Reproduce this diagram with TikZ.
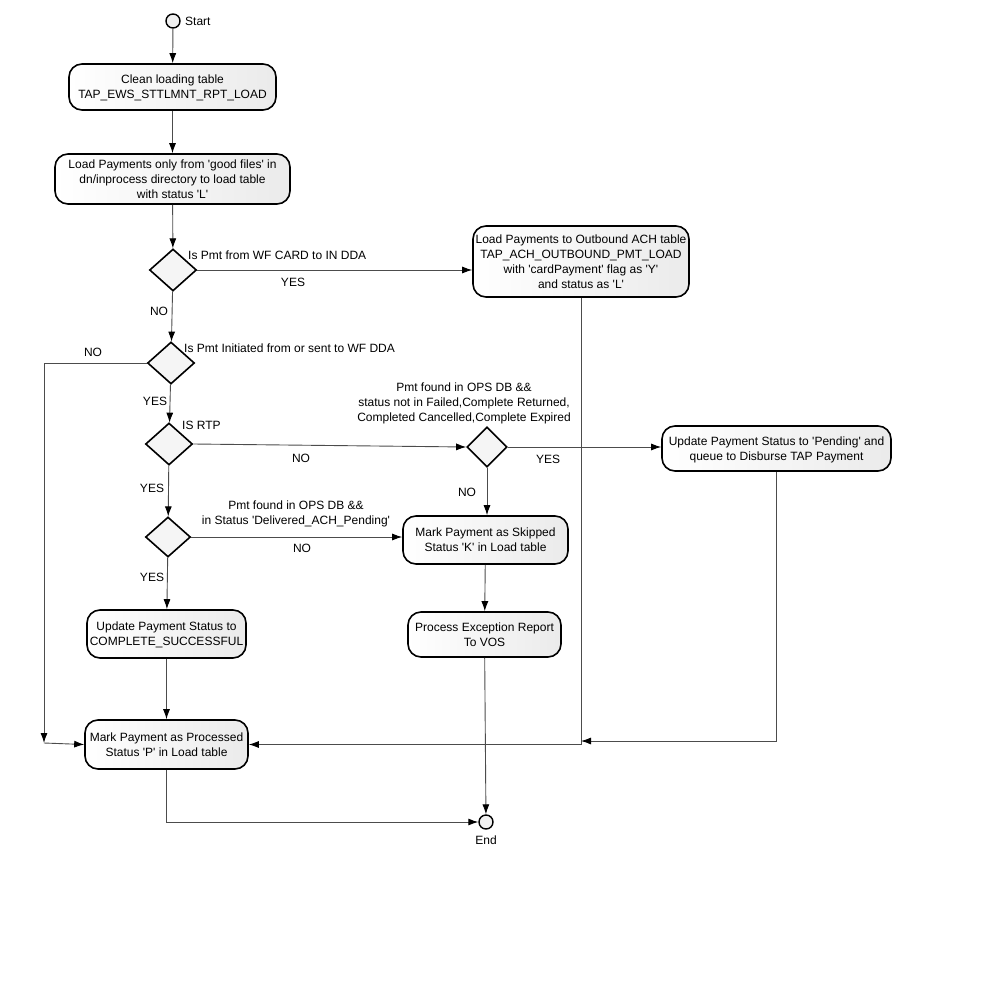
\documentclass[tikz,border=0pt]{standalone}
\usepackage{fontspec}
\setmainfont{Liberation Sans}[Ligatures=TeXOff]
\usepackage{tikz}
\usetikzlibrary{shapes.geometric, arrows.meta}
\tikzstyle{act}=[draw=black, line width=1.6pt, rounded corners=13pt, left color=white, right color=black!8, inner sep=1pt, text depth=0pt, align=center]
\tikzstyle{dec}=[diamond, draw=black, line width=1.6pt, fill=black!4, inner sep=0pt, minimum width=47pt, minimum height=42pt]
\tikzstyle{term}=[circle, draw=black, line width=1.4pt, fill=black!6, minimum size=14pt, inner sep=0pt]
\tikzstyle{lbl}=[inner sep=0pt, align=center]
\tikzstyle{flow}=[draw=black!70, line width=0.9pt, -{Latex[length=10pt,width=7pt,black]}]

\begin{document}
\begin{tikzpicture}[x=1pt, y=-1pt, font=\fontsize{12}{15}\selectfont]
    \useasboundingbox (0,0) rectangle (1000,1000);
    \node[term] (start) at (173,21) {};
    \node[lbl, anchor=west] (startl) at (185,21) {Start};
    \node[act, minimum width=207pt, minimum height=46pt] (clean) at (172.5,87) {Clean loading table\\TAP\_EWS\_STTLMNT\_RPT\_LOAD};
    \node[act, minimum width=235pt, minimum height=50pt] (load) at (172.5,179) {Load Payments only from 'good files' in\\dn/inprocess directory to load table\\with status 'L'};
    \node[dec] (d1) at (173,270) {};
    \node[lbl, anchor=west] (d1l) at (188,255) {Is Pmt from WF CARD to IN DDA};
    \node[act, minimum width=216pt, minimum height=71pt] (outbound) at (581,261.5) {Load Payments to Outbound ACH table\\TAP\_ACH\_OUTBOUND\_PMT\_LOAD\\with 'cardPayment' flag as 'Y'\\and status as 'L'};
    \node[dec] (d2) at (171,363) {};
    \node[lbl, anchor=west] (d2l) at (184,348) {Is Pmt Initiated from or sent to WF DDA};
    \node[dec] (d3) at (169,444) {};
    \node[lbl, anchor=west] (d3l) at (182,425) {IS RTP};
    \node[dec, minimum width=40pt, minimum height=40pt] (d4) at (487,447) {};
    \node[lbl] (d4l) at (464,403) {Pmt found in OPS DB \&\&\\status not in Failed,Complete Returned,\\Completed Cancelled,Complete Expired};
    \node[act, minimum width=229pt, minimum height=45pt] (pending) at (776.5,448.5) {Update Payment Status to 'Pending' and\\queue to Disburse TAP Payment};
    \node[dec, minimum width=45pt, minimum height=40pt] (d5) at (168,537) {};
    \node[lbl] (d5l) at (296,514) {Pmt found in OPS DB \&\&\\in Status 'Delivered\_ACH\_Pending'};
    \node[act, minimum width=165pt, minimum height=48pt] (skipped) at (485.5,540) {Mark Payment as Skipped\\Status 'K' in Load table};
    \node[act, minimum width=159pt, minimum height=48pt] (success) at (166.5,634) {Update Payment Status to\\COMPLETE\_SUCCESSFUL};
    \node[act, minimum width=153pt, minimum height=45pt] (exception) at (484.5,634.5) {Process Exception Report\\To VOS};
    \node[act, minimum width=163pt, minimum height=49pt] (processed) at (166.5,744.5) {Mark Payment as Processed\\Status 'P' in Load table};
    \node[term] (end) at (486,822) {};
    \node[lbl] (endl) at (486,840) {End};
    \coordinate (nocorner) at (44,743);
    \coordinate (join) at (581,741);

    % answer labels
    \node[lbl] (yes1) at (293,282) {YES};
    \node[lbl] (no1) at (159,311) {NO};
    \node[lbl] (no2) at (93,352) {NO};
    \node[lbl] (yes2) at (155,401) {YES};
    \node[lbl] (no3) at (301,458) {NO};
    \node[lbl] (yes3) at (548,459) {YES};
    \node[lbl] (no4) at (467,492) {NO};
    \node[lbl] (yes4) at (152,488) {YES};
    \node[lbl] (no5) at (302,548) {NO};
    \node[lbl] (yes5) at (152,577) {YES};

    \foreach \from/\to in {start/clean, clean/load, load/d1, d1/d2, d2/d3,
          d3/d5, d5/success, success/processed, skipped/exception, exception/end}
      \draw[flow] (\from) -- (\to);
    \draw[flow] (d1.east) -- (d1.east -| outbound.west);
    \draw[flow] (d3.east) -- (d4.west);
    \draw[flow] (d4.east) -- (d4.east -| pending.west);
    \draw[flow] (d4.south) -- (d4.south |- skipped.north);
    \draw[flow] (d5.east) -- (d5.east -| skipped.west);
    \draw[flow] (d2.west) -| (nocorner);
    \draw[flow] (nocorner) -- (processed.west);
    \draw[flow] (outbound.south) |- (processed.east);
    \draw[flow] (pending.south) |- (join);
    \draw[flow] (processed.south) |- (end.west);
\end{tikzpicture}
\end{document}
